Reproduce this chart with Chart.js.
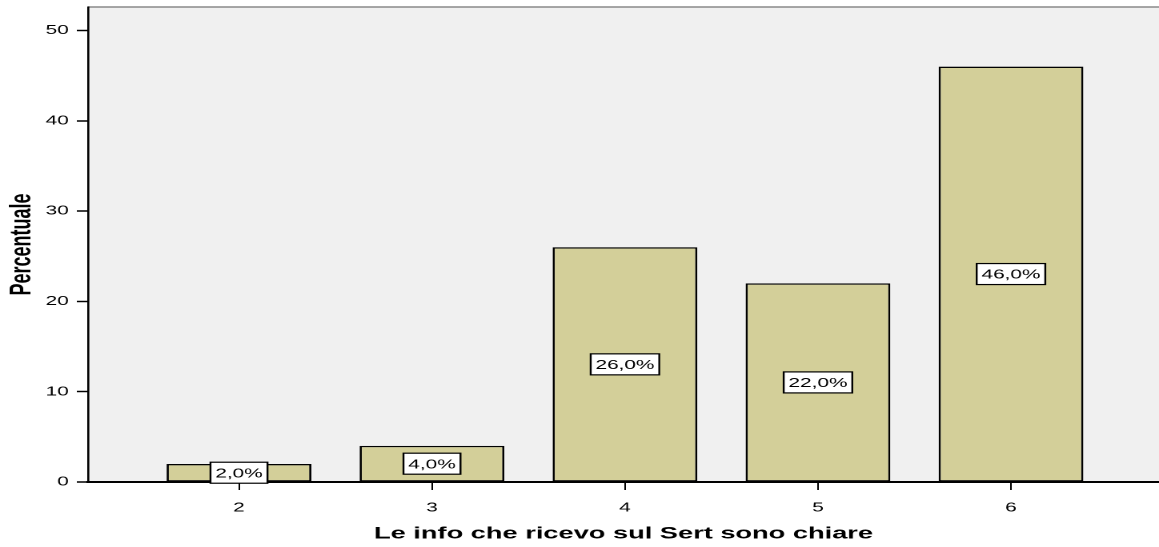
<!DOCTYPE html>
<html>
<head>
<meta charset="utf-8">
<script src="https://cdn.jsdelivr.net/npm/chart.js@4/dist/chart.umd.min.js"></script>
<style>
  body { margin: 0; background: #fff; }
</style>
</head>
<body>
<!-- the original picture is stretched sideways, so the canvas is drawn narrow and widened by css -->
<canvas id="chart" width="724" height="547" style="width:1159px;height:547px"></canvas>
<script>
// values
const categories = [2, 3, 4, 5, 6];
const percentages = [2, 4, 26, 22, 46];
const yTicks = [0, 10, 20, 30, 40, 50];

const xTitle = 'Le info che ricevo sul Sert sono chiare';
const yTitle = 'Percentuale';

const fontFamily = "'Liberation Sans', Arial, sans-serif";

// grey plot background and the thin line on top
const backgroundPlugin = {
  id: 'plotBackground',
  beforeDraw(chart) {
    const { ctx, chartArea } = chart;
    ctx.save();
    ctx.fillStyle = '#f0f0f0';
    ctx.fillRect(chartArea.left, chartArea.top, chartArea.right - chartArea.left, chartArea.bottom - chartArea.top);
    ctx.strokeStyle = '#8a8a8a';
    ctx.lineWidth = 1.5;
    ctx.beginPath();
    ctx.moveTo(chartArea.left, chartArea.top);
    ctx.lineTo(chartArea.right, chartArea.top);
    ctx.stroke();
    ctx.restore();
  }
};

// white boxes with the percentage in the middle of each bar
const labelPlugin = {
  id: 'barLabels',
  afterDatasetsDraw(chart) {
    const { ctx } = chart;
    const meta = chart.getDatasetMeta(0);
    ctx.save();
    ctx.font = '13px ' + fontFamily;
    ctx.textAlign = 'center';
    ctx.textBaseline = 'middle';
    meta.data.forEach((bar, i) => {
      const { x, y, base } = bar.getProps(['x', 'y', 'base'], true);
      const cy = (y + base) / 2;
      const text = percentages[i].toFixed(1).replace('.', ',') + '%';
      const w = ctx.measureText(text).width + 6;
      const h = 21;
      ctx.fillStyle = '#ffffff';
      ctx.fillRect(x - w / 2, cy - h / 2, w, h);
      ctx.strokeStyle = '#000000';
      ctx.lineWidth = 1.2;
      ctx.strokeRect(x - w / 2, cy - h / 2, w, h);
      ctx.fillStyle = '#000000';
      ctx.fillText(text, x, cy + 1);
    });
    ctx.restore();
  }
};

new Chart(document.getElementById('chart'), {
  type: 'bar',
  data: {
    datasets: [{
      data: categories.map((c, i) => ({ x: c, y: percentages[i] })),
      backgroundColor: '#d3cf99',
      borderColor: '#000000',
      borderWidth: 1.4,
      borderSkipped: false,
      categoryPercentage: 1,
      barPercentage: 0.75
    }]
  },
  options: {
    responsive: false,
    devicePixelRatio: 2,
    animation: false,
    layout: { padding: { top: 7, right: 0, left: 0, bottom: 0 } },
    plugins: {
      legend: { display: false },
      tooltip: { enabled: false }
    },
    scales: {
      x: {
        type: 'linear',
        offset: false,
        min: 1.218,
        max: 6.767,
        afterBuildTicks: (scale) => { scale.ticks = categories.map(v => ({ value: v })); },
        afterFit: (scale) => {
          scale.height = 65;
          scale.paddingLeft = 0;
          scale.paddingRight = 0;
        },
        grid: { drawOnChartArea: false, offset: false, drawTicks: true, tickLength: 8, tickColor: '#000', tickWidth: 1 },
        border: { color: '#000', width: 2 },
        ticks: {
          color: '#000',
          padding: 10,
          maxRotation: 0,
          font: { family: fontFamily, size: 13 },
          callback: (v) => String(v)
        },
        title: {
          display: true,
          text: xTitle,
          color: '#000',
          font: { family: fontFamily, size: 17, weight: 'bold' },
          padding: { top: 0, bottom: 3 }
        }
      },
      y: {
        min: 0,
        max: 52.6,
        afterBuildTicks: (scale) => { scale.ticks = yTicks.map(v => ({ value: v })); },
        afterFit: (scale) => {
          scale.width = 55;
          scale.paddingTop = 0;
          scale.paddingBottom = 0;
        },
        grid: { drawOnChartArea: false, drawTicks: true, tickLength: 7, tickColor: '#000', tickWidth: 1.5 },
        border: { color: '#000', width: 1.3 },
        ticks: {
          color: '#000',
          padding: 5,
          font: { family: fontFamily, size: 13 }
        },
        title: {
          display: true,
          text: yTitle,
          color: '#000',
          font: { family: fontFamily, size: 18, weight: 'bold' },
          padding: { top: 3, bottom: 0 }
        }
      }
    }
  },
  plugins: [backgroundPlugin, labelPlugin]
});
</script>
</body>
</html>
